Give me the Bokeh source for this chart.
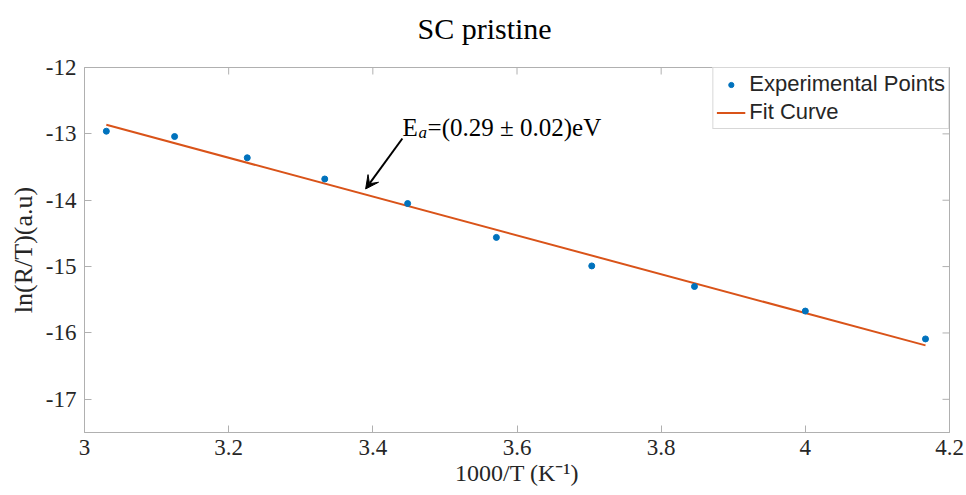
from bokeh.plotting import figure
from bokeh.models import FixedTicker, Label, Arrow, VeeHead
from bokeh.embed import file_html
from bokeh.resources import INLINE

# Measurements: 1000/T (K^-1) and ln(R/T) (a.u.)
inv_temp = [3.0303, 3.1250, 3.2258, 3.3333, 3.4483, 3.5714, 3.7037, 3.8462, 4.0000, 4.1667]
ln_r_over_t = [-12.96, -13.04, -13.36, -13.68, -14.05, -14.56, -14.99, -15.30, -15.67, -16.09]

# Linear (Arrhenius) fit: ln(R/T) = intercept + slope * (1000/T)
fit_slope = -2.925
fit_intercept = -4.00
fit_x = [inv_temp[0], inv_temp[-1]]
fit_y = [fit_intercept + fit_slope * v for v in fit_x]

x_ticks = [3.0, 3.2, 3.4, 3.6, 3.8, 4.0, 4.2]
x_tick_labels = ["3", "3.2", "3.4", "3.6", "3.8", "4", "4.2"]
y_ticks = [-17, -16, -15, -14, -13, -12]
y_tick_labels = ["-17", "-16", "-15", "-14", "-13", "-12"]

X_MIN, X_MAX = 3.0, 4.2
Y_MIN, Y_MAX = -17.5, -12.0

SERIF = "Liberation Serif"
SANS = "Liberation Sans"
AXIS_GRAY = "#b0b0b0"
TEXT_DARK = "#262626"

W, H = 966, 495
BORDER_L, BORDER_R, BORDER_T, BORDER_B = 84, 17, 67, 63
TICK_LEN = 7

p = figure(
    width=W, height=H,
    x_range=(X_MIN, X_MAX), y_range=(Y_MIN, Y_MAX),
    output_backend="svg", toolbar_location=None,
    min_border_left=BORDER_L, min_border_right=BORDER_R,
    min_border_top=BORDER_T, min_border_bottom=BORDER_B,
    title="SC pristine",
)
# the frame outline closes the box on the top and right sides
p.outline_line_color = AXIS_GRAY
p.outline_line_width = 1
p.xgrid.visible = False
p.ygrid.visible = False

# title centred on the whole page rather than on the frame
p.title.align = "left"
p.title.offset = 333
p.title.padding = (0, 0, 0, 18)
p.title.text_font = SERIF
p.title.text_font_size = "30px"
p.title.text_font_style = "normal"
p.title.text_color = "black"
p.title.standoff = 10


def style_axis(ax, ticks, labels):
    ax.ticker = FixedTicker(ticks=ticks)
    ax.major_label_overrides = {t: s for t, s in zip(ticks, labels)}
    ax.minor_tick_line_color = None
    ax.major_tick_in = TICK_LEN
    ax.major_tick_out = 0
    ax.axis_line_color = AXIS_GRAY
    ax.major_tick_line_color = AXIS_GRAY
    ax.major_label_text_font = SERIF
    ax.major_label_text_color = TEXT_DARK
    ax.major_label_text_font_size = "23px"


xa = p.xaxis[0]
style_axis(xa, x_ticks, x_tick_labels)
xa.major_label_standoff = 7
xa.axis_label = "1000/T (K\u207b\u00b9)"
xa.axis_label_text_font = SERIF
xa.axis_label_text_font_size = "24px"
xa.axis_label_text_font_style = "normal"
xa.axis_label_text_color = TEXT_DARK
xa.axis_label_standoff = 2

ya = p.yaxis[0]
style_axis(ya, y_ticks, y_tick_labels)
ya.major_label_standoff = 8
ya.axis_label = "ln(R/T)(a.u)"
ya.axis_label_text_font = SERIF
ya.axis_label_text_font_size = "26px"
ya.axis_label_text_font_style = "normal"
ya.axis_label_text_color = TEXT_DARK
ya.axis_label_standoff = 5

# inward tick marks on the top and right sides of the box
frame_w = W - BORDER_L - BORDER_R
frame_h = H - BORDER_T - BORDER_B
dy_tick = TICK_LEN * (Y_MAX - Y_MIN) / frame_h
dx_tick = TICK_LEN * (X_MAX - X_MIN) / frame_w
p.segment(x0=x_ticks, y0=[Y_MAX] * len(x_ticks), x1=x_ticks, y1=[Y_MAX - dy_tick] * len(x_ticks),
          line_color=AXIS_GRAY, line_width=1)
p.segment(x0=[X_MAX] * len(y_ticks), y0=y_ticks, x1=[X_MAX - dx_tick] * len(y_ticks), y1=y_ticks,
          line_color=AXIS_GRAY, line_width=1)

p.line(fit_x, fit_y, line_color="#D95319", line_width=2, legend_label="Fit Curve")
p.scatter(inv_temp, ln_r_over_t, size=6, fill_color="#0072BD", line_color="#0072BD",
          legend_label="Experimental Points")

# put the points entry first in the legend
p.legend.items = list(reversed(p.legend.items))
lg = p.legend[0]
lg.location = "top_right"
lg.margin = 0
lg.padding = 3
lg.spacing = 2
lg.glyph_width = 29
lg.glyph_height = 13
lg.label_height = 26
lg.label_standoff = 4
lg.label_text_font = SANS
lg.label_text_font_size = "22px"
lg.label_text_color = TEXT_DARK
lg.border_line_color = AXIS_GRAY
lg.border_line_width = 1
lg.background_fill_color = "white"
lg.background_fill_alpha = 1.0

# activation energy annotation
ann_x, ann_y = 3.4413, -12.90
ann_style = dict(text_font=SERIF, text_color="black", text_baseline="alphabetic")
p.add_layout(Label(x=ann_x, y=ann_y, text="E", text_font_size="25px", **ann_style))
p.add_layout(Label(x=ann_x, y=ann_y, x_offset=16, y_offset=-5, text="a",
                   text_font_size="17px", text_font_style="italic", **ann_style))
p.add_layout(Label(x=ann_x, y=ann_y, x_offset=25, text="=(0.29 \u00b1 0.02)eV",
                   text_font_size="25px", **ann_style))

p.add_layout(Arrow(
    end=VeeHead(size=13, fill_color="black", line_color="black", line_width=1),
    x_start=3.441, y_start=-13.07, x_end=3.390, y_end=-13.83,
    line_color="black", line_width=2,
))

open("out.html", "w").write(file_html(p, INLINE))
